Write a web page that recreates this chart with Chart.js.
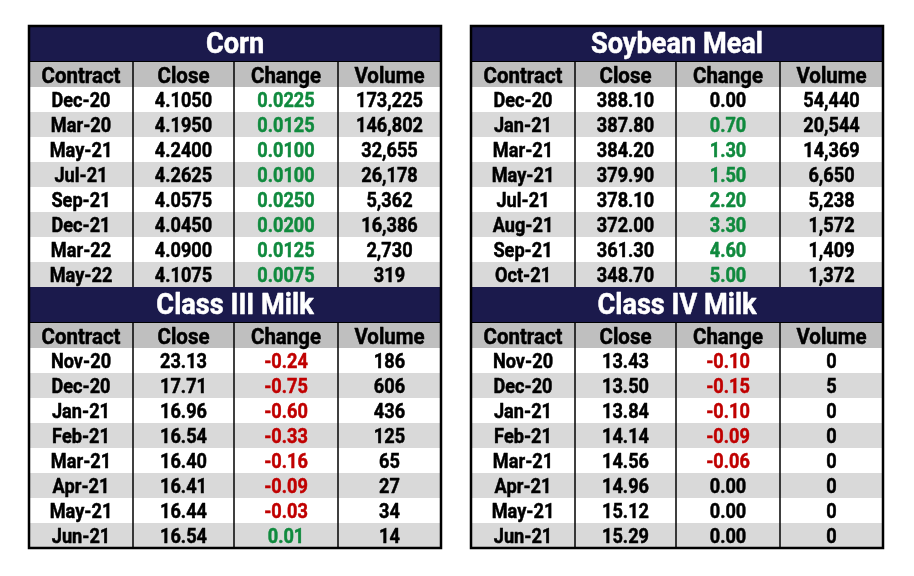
<!DOCTYPE html>
<html>
<head>
<meta charset="utf-8">
<script src="https://cdn.jsdelivr.net/npm/chart.js@4.4.1/dist/chart.umd.min.js"></script>
<style>
  html, body { margin: 0; padding: 0; background: #ffffff; }
  #wrap { width: 914px; height: 576px; }
</style>
</head>
<body>
<div id="wrap"><canvas id="c" width="914" height="576"></canvas></div>
<script>
// ---------------- DATA ----------------
const columnHeaders = ["Contract", "Close", "Change", "Volume"];

const cornContracts = ["Dec-20", "Mar-20", "May-21", "Jul-21", "Sep-21", "Dec-21", "Mar-22", "May-22"];
const cornClose     = [4.1050, 4.1950, 4.2400, 4.2625, 4.0575, 4.0450, 4.0900, 4.1075];
const cornChange    = [0.0225, 0.0125, 0.0100, 0.0100, 0.0250, 0.0200, 0.0125, 0.0075];
const cornVolume    = [173225, 146802, 32655, 26178, 5362, 16386, 2730, 319];

const soyContracts = ["Dec-20", "Jan-21", "Mar-21", "May-21", "Jul-21", "Aug-21", "Sep-21", "Oct-21"];
const soyClose     = [388.10, 387.80, 384.20, 379.90, 378.10, 372.00, 361.30, 348.70];
const soyChange    = [0.00, 0.70, 1.30, 1.50, 2.20, 3.30, 4.60, 5.00];
const soyVolume    = [54440, 20544, 14369, 6650, 5238, 1572, 1409, 1372];

const milk3Contracts = ["Nov-20", "Dec-20", "Jan-21", "Feb-21", "Mar-21", "Apr-21", "May-21", "Jun-21"];
const milk3Close     = [23.13, 17.71, 16.96, 16.54, 16.40, 16.41, 16.44, 16.54];
const milk3Change    = [-0.24, -0.75, -0.60, -0.33, -0.16, -0.09, -0.03, 0.01];
const milk3Volume    = [186, 606, 436, 125, 65, 27, 34, 14];

const milk4Contracts = ["Nov-20", "Dec-20", "Jan-21", "Feb-21", "Mar-21", "Apr-21", "May-21", "Jun-21"];
const milk4Close     = [13.43, 13.50, 13.84, 14.14, 14.56, 14.96, 15.12, 15.29];
const milk4Change    = [-0.10, -0.15, -0.10, -0.09, -0.06, 0.00, 0.00, 0.00];
const milk4Volume    = [0, 5, 0, 0, 0, 0, 0, 0];

const tables = [
  { title: "Corn",           contracts: cornContracts,  close: cornClose,  change: cornChange,  volume: cornVolume,  decimals: 4, side: 0, block: 0 },
  { title: "Soybean Meal",   contracts: soyContracts,   close: soyClose,   change: soyChange,   volume: soyVolume,   decimals: 2, side: 1, block: 0 },
  { title: "Class III Milk", contracts: milk3Contracts, close: milk3Close, change: milk3Change, volume: milk3Volume, decimals: 2, side: 0, block: 1 },
  { title: "Class IV Milk",  contracts: milk4Contracts, close: milk4Close, change: milk4Change, volume: milk4Volume, decimals: 2, side: 1, block: 1 }
];

// ---------------- LAYOUT / STYLE ----------------
const W = 914, H = 576;
const SIDE_X = [29, 471];
const COL_W = [104, 101, 104, 103];
const TABLE_W = COL_W.reduce((a, b) => a + b, 0);
const BLOCK_Y = [26, 287];
const TITLE_H = 35, HEAD_H = 26, ROW_H = 25;
const BOTTOM_Y = 548;
const TITLE_BASE = 27.3, HEAD_BASE = 22.3, ROW_BASE = 20.2;

const NAVY = "#1b1a4c";
const HEAD_GRAY = "#bfbfbf";
const ROW_GRAY = "#d9d9d9";
const GREEN = "#108a3e";
const RED = "#c00000";
const FAMILY = 'Roboto, "Open Sans", "DejaVu Sans", sans-serif';
const TITLE_FONT = "bold 29px " + FAMILY;
const HEAD_FONT = "bold 22px " + FAMILY;
const ROW_FONT = "bold 20.5px " + FAMILY;

function fmtNum(v, d) { return v.toFixed(d); }
function fmtVol(v) { return v.toLocaleString("en-US"); }
function colLeft(side, c) { let x = SIDE_X[side]; for (let i = 0; i < c; i++) x += COL_W[i]; return x; }
function colCenter(side, c) { return colLeft(side, c) + COL_W[c] / 2; }
function rowTop(block, r) { return BLOCK_Y[block] + TITLE_H + HEAD_H + r * ROW_H; }

// condensed text: horizontal scale fitted to reference string widths
function fitScale(ctx, font, sample, width) {
  ctx.save(); ctx.font = font;
  const w = ctx.measureText(sample).width;
  ctx.restore();
  return Math.min(1, width / w);
}
function drawText(ctx, text, x, y, font, sx, color) {
  ctx.save();
  ctx.font = font;
  ctx.fillStyle = color;
  ctx.strokeStyle = color;
  ctx.lineWidth = 0.5;
  ctx.lineJoin = "round";
  ctx.textAlign = "center";
  ctx.textBaseline = "alphabetic";
  ctx.translate(x, y);
  ctx.scale(sx, 1);
  ctx.fillText(text, 0, 0);
  ctx.strokeText(text, 0, 0);
  ctx.restore();
}

// datasets: one per table column, each point is a cell's text anchor
const datasets = [];
tables.forEach(t => {
  const cols = [
    t.contracts,
    t.close.map(v => fmtNum(v, t.decimals)),
    t.change.map(v => fmtNum(v, t.decimals)),
    t.volume.map(fmtVol)
  ];
  cols.forEach((texts, ci) => {
    datasets.push({
      type: "scatter",
      label: t.title + " " + columnHeaders[ci],
      data: texts.map((_, ri) => ({ x: colCenter(t.side, ci), y: rowTop(t.block, ri) + ROW_BASE })),
      texts: texts,
      textColors: texts.map((_, ri) => {
        if (ci !== 2) return "#000000";
        const v = t.change[ri];
        return v > 0 ? GREEN : (v < 0 ? RED : "#000000");
      }),
      pointRadius: 0,
      pointHoverRadius: 0
    });
  });
});

let SX = null;
function textScales(ctx) {
  if (!SX) {
    SX = {
      title: fitScale(ctx, TITLE_FONT, "Soybean Meal", 172),
      head: fitScale(ctx, HEAD_FONT, "Contract", 79),
      row: fitScale(ctx, ROW_FONT, "173,225", 67)
    };
  }
  return SX;
}

const tablePlugin = {
  id: "tablePlugin",
  beforeDatasetsDraw(chart) {
    const { ctx, scales: { x, y } } = chart;
    const s = textScales(ctx);
    const px = v => x.getPixelForValue(v);
    const py = v => y.getPixelForValue(v);
    ctx.save();
    tables.forEach(t => {
      const L = px(SIDE_X[t.side]), R = px(SIDE_X[t.side] + TABLE_W);
      const top = py(BLOCK_Y[t.block]);
      const hTop = py(BLOCK_Y[t.block] + TITLE_H);
      const dTop = py(BLOCK_Y[t.block] + TITLE_H + HEAD_H);
      ctx.fillStyle = NAVY;
      ctx.fillRect(L, top, R - L, hTop - top);
      ctx.fillStyle = HEAD_GRAY;
      ctx.fillRect(L, hTop, R - L, dTop - hTop);
      t.contracts.forEach((_, ri) => {
        const y0 = py(rowTop(t.block, ri)), y1 = py(rowTop(t.block, ri + 1));
        ctx.fillStyle = ri % 2 === 0 ? "#ffffff" : ROW_GRAY;
        ctx.fillRect(L, y0, R - L, y1 - y0);
      });
      const bottom = py(rowTop(t.block, t.contracts.length));
      ctx.strokeStyle = "#000000";
      ctx.lineWidth = 1;
      ctx.beginPath(); ctx.moveTo(L, hTop + 0.5); ctx.lineTo(R, hTop + 0.5); ctx.stroke();
      ctx.lineWidth = 1.5;
      for (let c = 1; c < 4; c++) {
        const xx = px(colLeft(t.side, c));
        ctx.beginPath(); ctx.moveTo(xx, hTop); ctx.lineTo(xx, bottom); ctx.stroke();
      }
      drawText(ctx, t.title, (L + R) / 2, py(BLOCK_Y[t.block] + TITLE_BASE), TITLE_FONT, s.title, "#ffffff");
      columnHeaders.forEach((h, ci) => {
        drawText(ctx, h, px(colCenter(t.side, ci)), py(BLOCK_Y[t.block] + TITLE_H + HEAD_BASE), HEAD_FONT, s.head, "#000000");
      });
    });
    ctx.strokeStyle = "#000000";
    ctx.lineWidth = 2.5;
    [0, 1].forEach(sd => {
      const L = px(SIDE_X[sd]), R = px(SIDE_X[sd] + TABLE_W);
      const T = py(BLOCK_Y[0]), B = py(BOTTOM_Y);
      ctx.strokeRect(L, T, R - L, B - T);
    });
    ctx.restore();
  },
  afterDatasetsDraw(chart) {
    const { ctx } = chart;
    const s = textScales(ctx);
    chart.data.datasets.forEach((ds, di) => {
      const meta = chart.getDatasetMeta(di);
      meta.data.forEach((el, i) => {
        drawText(ctx, ds.texts[i], el.x, el.y, ROW_FONT, s.row, ds.textColors[i]);
      });
    });
  }
};

new Chart(document.getElementById("c"), {
  type: "scatter",
  data: { datasets },
  options: {
    responsive: false,
    animation: false,
    devicePixelRatio: 1,
    layout: { padding: 0 },
    plugins: { legend: { display: false }, tooltip: { enabled: false } },
    events: [],
    scales: {
      x: { type: "linear", min: 0, max: W, display: false },
      y: { type: "linear", min: 0, max: H, reverse: true, display: false }
    }
  },
  plugins: [tablePlugin]
});
</script>
</body>
</html>
